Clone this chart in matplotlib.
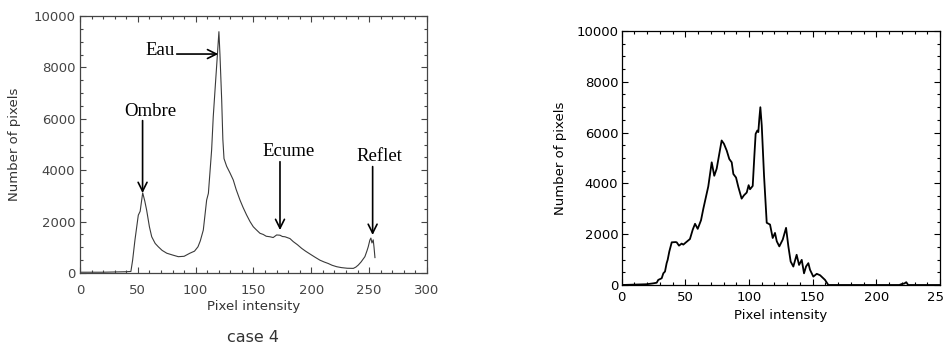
import matplotlib
matplotlib.use("Agg")
import matplotlib.pyplot as plt
from matplotlib.ticker import MultipleLocator

# ---------------- data ----------------
left_x = [0, 10, 20, 30, 40, 44, 45.5, 47.5, 50.4, 52, 54.2, 56, 57.6, 60, 62, 65, 67.7, 71, 75,
          80, 85, 90, 95, 99, 102, 104, 106.6, 109.5, 111, 113.8, 115.2, 117, 118.5, 120.1, 121,
          122.5, 123.5, 124.5, 126.8, 129.6, 132.5, 135, 138.3, 141, 144, 147, 149.8, 152, 155.6,
          158.4, 161, 164.2, 167, 170, 172.9, 175, 177.2, 181.5, 184.4, 188, 191.6, 195, 198.8,
          203, 207.4, 211, 214.6, 218, 221.9, 226, 231, 236.3, 238.5, 240.6, 243, 246.3, 248,
          249.2, 250.6, 251.5, 252.4, 253.5, 254.2, 255]
left_y = [30, 30, 30, 40, 50, 60, 500, 1280, 2250, 2400, 3120, 2800, 2450, 1800, 1410, 1150, 1020,
          880, 770, 700, 635, 650, 770, 850, 1020, 1250, 1670, 2840, 3100, 4790, 6080, 7300, 8300,
          9390, 8500, 6730, 5200, 4450, 4150, 3900, 3620, 3250, 2840, 2550, 2260, 2000, 1800, 1700,
          1545, 1500, 1430, 1410, 1380, 1480, 1470, 1420, 1410, 1340, 1220, 1100, 960, 850, 740,
          620, 500, 430, 370, 300, 245, 210, 185, 180, 230, 310, 430, 635, 850, 1020, 1280, 1360,
          1170, 1290, 1000, 600]

right_x = [0, 19.6, 24.8, 27.5, 28.7, 31.4, 32.7, 34, 35.3, 36.1, 37.4, 39.3, 42.4, 43.2, 45, 47.1,
           48.4, 50.5, 53.6, 55.8, 57.6, 59.7, 62.3, 64.1, 67.2, 68, 70.7, 72.7, 74.6, 78.5, 80.3,
           82.5, 84.5, 86.4, 87.7, 89.8, 91.6, 94.2, 96, 98.2, 99.7, 100.8, 102.9, 104.2, 105.2,
           106.5, 107.3, 108.1, 108.9, 110, 111.8, 113.9, 116.5, 118.6, 120.4, 121.8, 123.8, 126.5,
           129.1, 130.9, 132.7, 134.8, 137.4, 139.3, 141.4, 143.2, 144.8, 146.6, 147.9, 150.5,
           153.2, 155.8, 159.7, 162.3, 218, 220, 222, 223.5, 225, 250]
right_y = [0, 30, 65, 90, 200, 265, 460, 530, 860, 990, 1320, 1680, 1690, 1680, 1550, 1630, 1590,
           1680, 1810, 2180, 2410, 2210, 2550, 3000, 3700, 3880, 4830, 4300, 4580, 5690, 5560,
           5290, 4960, 4830, 4370, 4230, 3860, 3400, 3530, 3640, 3930, 3770, 3900, 5090, 5950,
           6080, 6020, 6550, 7000, 6280, 4300, 2450, 2380, 1850, 2050, 1720, 1520, 1790, 2250,
           1520, 925, 726, 1190, 790, 990, 460, 730, 860, 600, 330, 440, 385, 200, 0, 0, 40, 60,
           110, 0, 0]

left_xticks = [0, 50, 100, 150, 200, 250, 300]
right_xticks = [0, 50, 100, 150, 200, 250]
yticks = [0, 2000, 4000, 6000, 8000, 10000]

annotations = ["Ombre", "Eau", "Ecume", "Reflet"]
ann_text_xy = [(61.2, 6280), (69.4, 8650), (180.6, 4720), (259, 4550)]
ann_start = [(54.1, 5930), (83.6, 8520), (172.9, 4330), (253, 4140)]
ann_tip = [(54.1, 3110), (119.5, 8520), (172.9, 1670), (253, 1480)]

# ---------------- figure ----------------
W, H = 945, 347
fig = plt.figure(figsize=(W / 100, H / 100), dpi=100)

def rect(l, t, r, b):
    return [l / W, 1 - b / H, (r - l) / W, (b - t) / H]

def style(ax, col, xpad, ypad):
    ax.tick_params(which="both", direction="in", top=True, right=True, colors=col,
                   labelsize=9.5, width=0.8)
    ax.tick_params(which="major", length=4.3)
    ax.tick_params(which="minor", length=2.2)
    ax.tick_params(axis="x", pad=xpad)
    ax.tick_params(axis="y", pad=ypad)
    for s in ax.spines.values():
        s.set_color(col)
        s.set_linewidth(0.9)
    ax.yaxis.set_minor_locator(MultipleLocator(500))
    ax.xaxis.set_minor_locator(MultipleLocator(10))

# left panel
axL = fig.add_axes(rect(80, 16, 427, 273))
axL.plot(left_x, left_y, color="#3a3a3a", lw=0.8)
axL.set_xlim(0, 300)
axL.set_ylim(0, 10000)
axL.set_xticks(left_xticks)
axL.set_yticks(yticks)
style(axL, "#444444", 8, 3.5)
axL.set_xlabel("Pixel intensity", fontsize=9.5, color="#333333", labelpad=2)
axL.set_ylabel("Number of pixels", fontsize=9.5, color="#333333", labelpad=9)
for name, txy, s, t in zip(annotations, ann_text_xy, ann_start, ann_tip):
    axL.text(txy[0], txy[1], name, family="Liberation Serif", fontsize=13.5,
             ha="center", va="center", color="black")
    axL.annotate("", xy=t, xytext=s,
                 arrowprops=dict(arrowstyle="->", lw=1.2, color="black",
                                 mutation_scale=16, shrinkA=0, shrinkB=0))
fig.text(253 / W, 1 - 337.5 / H, "case 4", fontsize=11.5, color="#333333",
         ha="center", va="center")

# right panel
axR = fig.add_axes(rect(621.7, 31, 940, 285))
axR.plot(right_x, right_y, color="black", lw=1.3)
axR.set_xlim(0, 250)
axR.set_ylim(0, 10000)
axR.set_xticks(right_xticks)
axR.set_yticks(yticks)
style(axR, "black", 4, 2.5)
axR.set_xlabel("Pixel intensity", fontsize=9.5, color="black", labelpad=4)
axR.set_ylabel("Number of pixels", fontsize=9.5, color="black", labelpad=7)

fig.savefig("out.png", dpi=100)
